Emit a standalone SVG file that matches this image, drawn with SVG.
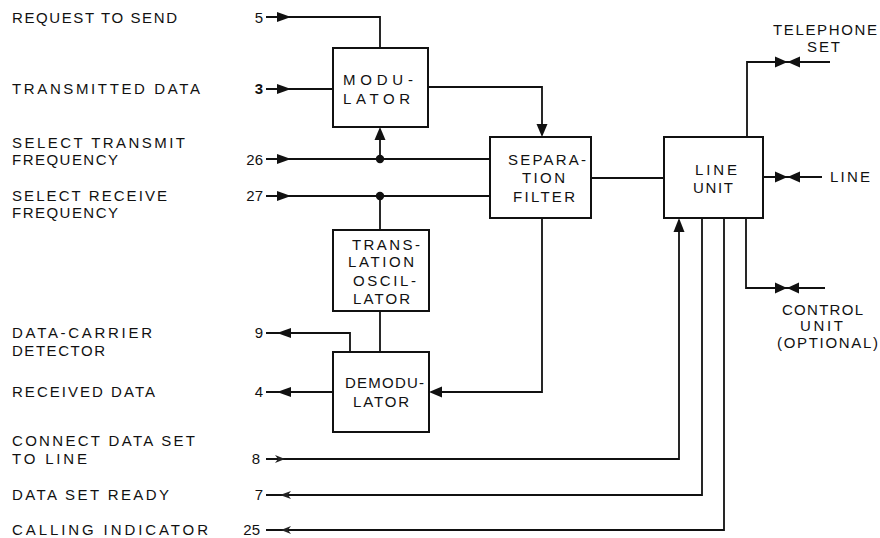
<svg xmlns="http://www.w3.org/2000/svg" width="880" height="538" viewBox="0 0 880 538">
<style>
text{font-family:"Liberation Sans",Arial,sans-serif;font-size:15px;fill:#111}
.box{fill:none;stroke:#111;stroke-width:2}
.ln{fill:none;stroke:#111;stroke-width:1.8}
.ah{fill:#111;stroke:none}
.sm{fill:#222;stroke:none}
.dot{fill:#111}
</style>
<rect width="880" height="538" fill="#fff"/>

<g id="signal-labels">
<text x="12" y="23" textLength="165" lengthAdjust="spacing">REQUEST TO SEND</text>
<text x="12" y="94" textLength="188" lengthAdjust="spacing">TRANSMITTED DATA</text>
<text x="12" y="148" textLength="173" lengthAdjust="spacing">SELECT TRANSMIT</text>
<text x="12" y="165" textLength="106" lengthAdjust="spacing">FREQUENCY</text>
<text x="12" y="201" textLength="155" lengthAdjust="spacing">SELECT RECEIVE</text>
<text x="12" y="218" textLength="106" lengthAdjust="spacing">FREQUENCY</text>
<text x="12" y="338" textLength="140" lengthAdjust="spacing">DATA-CARRIER</text>
<text x="12" y="356" textLength="93" lengthAdjust="spacing">DETECTOR</text>
<text x="12" y="397" textLength="143" lengthAdjust="spacing">RECEIVED DATA</text>
<text x="12" y="446" textLength="183" lengthAdjust="spacing">CONNECT DATA SET</text>
<text x="12" y="464" textLength="75" lengthAdjust="spacing">TO LINE</text>
<text x="12" y="500" textLength="157" lengthAdjust="spacing">DATA SET READY</text>
<text x="12" y="535" textLength="196" lengthAdjust="spacing">CALLING INDICATOR</text>
</g>

<g id="pin-numbers">
<text x="263" y="23" text-anchor="end">5</text>
<text x="263" y="94" text-anchor="end" font-weight="bold">3</text>
<text x="263" y="165" text-anchor="end">26</text>
<text x="263" y="201" text-anchor="end">27</text>
<text x="263" y="338" text-anchor="end">9</text>
<text x="263" y="397" text-anchor="end">4</text>
<text x="260" y="464" text-anchor="end">8</text>
<text x="263" y="500" text-anchor="end">7</text>
<text x="260" y="535" text-anchor="end">25</text>
</g>

<g id="modulator">
<rect class="box" x="333" y="48" width="95" height="79"/>
<text x="343" y="85" textLength="70" lengthAdjust="spacing">MODU-</text>
<text x="343" y="104" textLength="67" lengthAdjust="spacing">LATOR</text>
</g>

<g id="separation-filter">
<rect class="box" x="490" y="137" width="101" height="81"/>
<text x="508" y="165" textLength="78" lengthAdjust="spacing">SEPARA-</text>
<text x="522" y="183" textLength="43" lengthAdjust="spacing">TION</text>
<text x="513" y="202" textLength="62" lengthAdjust="spacing">FILTER</text>
</g>

<g id="line-unit">
<rect class="box" x="664" y="137" width="99" height="81"/>
<text x="695" y="175" textLength="42" lengthAdjust="spacing">LINE</text>
<text x="693" y="193" textLength="40" lengthAdjust="spacing">UNIT</text>
</g>

<g id="translation-oscillator">
<rect class="box" x="333" y="230" width="96" height="81"/>
<text x="352" y="250" textLength="68" lengthAdjust="spacing">TRANS-</text>
<text x="348" y="267" textLength="66" lengthAdjust="spacing">LATION</text>
<text x="353" y="286" textLength="63" lengthAdjust="spacing">OSCIL-</text>
<text x="353" y="304" textLength="57" lengthAdjust="spacing">LATOR</text>
</g>

<g id="demodulator">
<rect class="box" x="333" y="352" width="96" height="80"/>
<text x="345" y="388" textLength="79" lengthAdjust="spacing">DEMODU-</text>
<text x="353" y="407" textLength="56" lengthAdjust="spacing">LATOR</text>
</g>

<g id="telephone-set">
<text x="773" y="35" textLength="104" lengthAdjust="spacing">TELEPHONE</text>
<text x="807" y="52" textLength="33" lengthAdjust="spacing">SET</text>
</g>

<g id="line-terminal">
<text x="830" y="182" textLength="40" lengthAdjust="spacing">LINE</text>
</g>

<g id="control-unit">
<text x="782" y="315" textLength="81" lengthAdjust="spacing">CONTROL</text>
<text x="800" y="331" textLength="43" lengthAdjust="spacing">UNIT</text>
<text x="777" y="348" textLength="101" lengthAdjust="spacing">(OPTIONAL)</text>
</g>

<g id="connectors">
<polyline class="ln" points="266,17 380,17 380,48"/>
<polygon class="ah" points="277,12 291,17 277,22"/>
<line class="ln" x1="266" y1="89" x2="333" y2="89"/>
<polygon class="ah" points="277,84 291,89 277,94"/>
<polyline class="ln" points="428,87 542,87 542,126"/>
<polygon class="ah" points="536.5,124 547.5,124 542,137"/>
<line class="ln" x1="266" y1="159" x2="490" y2="159"/>
<polygon class="ah" points="277,154 291,159 277,164"/>
<circle class="dot" cx="380" cy="159" r="4.2"/>
<line class="ln" x1="380" y1="159" x2="380" y2="138"/>
<polygon class="ah" points="374.5,140 385.5,140 380,127"/>
<line class="ln" x1="266" y1="196" x2="490" y2="196"/>
<polygon class="ah" points="277,191 291,196 277,201"/>
<circle class="dot" cx="380" cy="196" r="4.2"/>
<line class="ln" x1="380" y1="196" x2="380" y2="230"/>
<line class="ln" x1="380" y1="311" x2="380" y2="352"/>
<polyline class="ln" points="350,352 350,333 266,333"/>
<polygon class="ah" points="291,328 277,333 291,338"/>
<line class="ln" x1="333" y1="392" x2="266" y2="392"/>
<polygon class="ah" points="291,387 277,392 291,397"/>
<polyline class="ln" points="542,218 542,392 440,392"/>
<polygon class="ah" points="442,386.5 442,397.5 429,392"/>
<line class="ln" x1="591" y1="178" x2="664" y2="178"/>
<polyline class="ln" points="266,459 679,459 679,230"/>
<polygon class="ah" points="673.5,232 684.5,232 679,218"/>
<polygon class="sm" points="275,455 285,459 275,463 278,459"/>
<polyline class="ln" points="702,218 702,495 266,495"/>
<polygon class="sm" points="291,491 280,495 291,499 288,495"/>
<polyline class="ln" points="724,218 724,530 266,530"/>
<polygon class="sm" points="291,526 281,530 291,534 288,530"/>
<polyline class="ln" points="747,137 747,62 830,62"/>
<polygon class="ah" points="775,56.5 787.5,62 775,67.5"/>
<polygon class="ah" points="800,56.5 787.5,62 800,67.5"/>
<line class="ln" x1="763" y1="177" x2="822" y2="177"/>
<polygon class="ah" points="775,171.5 787.5,177 775,182.5"/>
<polygon class="ah" points="800,171.5 787.5,177 800,182.5"/>
<polyline class="ln" points="746,218 746,288 825,288"/>
<polygon class="ah" points="775,282.5 787,288 775,293.5"/>
<polygon class="ah" points="799,282.5 787,288 799,293.5"/>
</g>
</svg>
